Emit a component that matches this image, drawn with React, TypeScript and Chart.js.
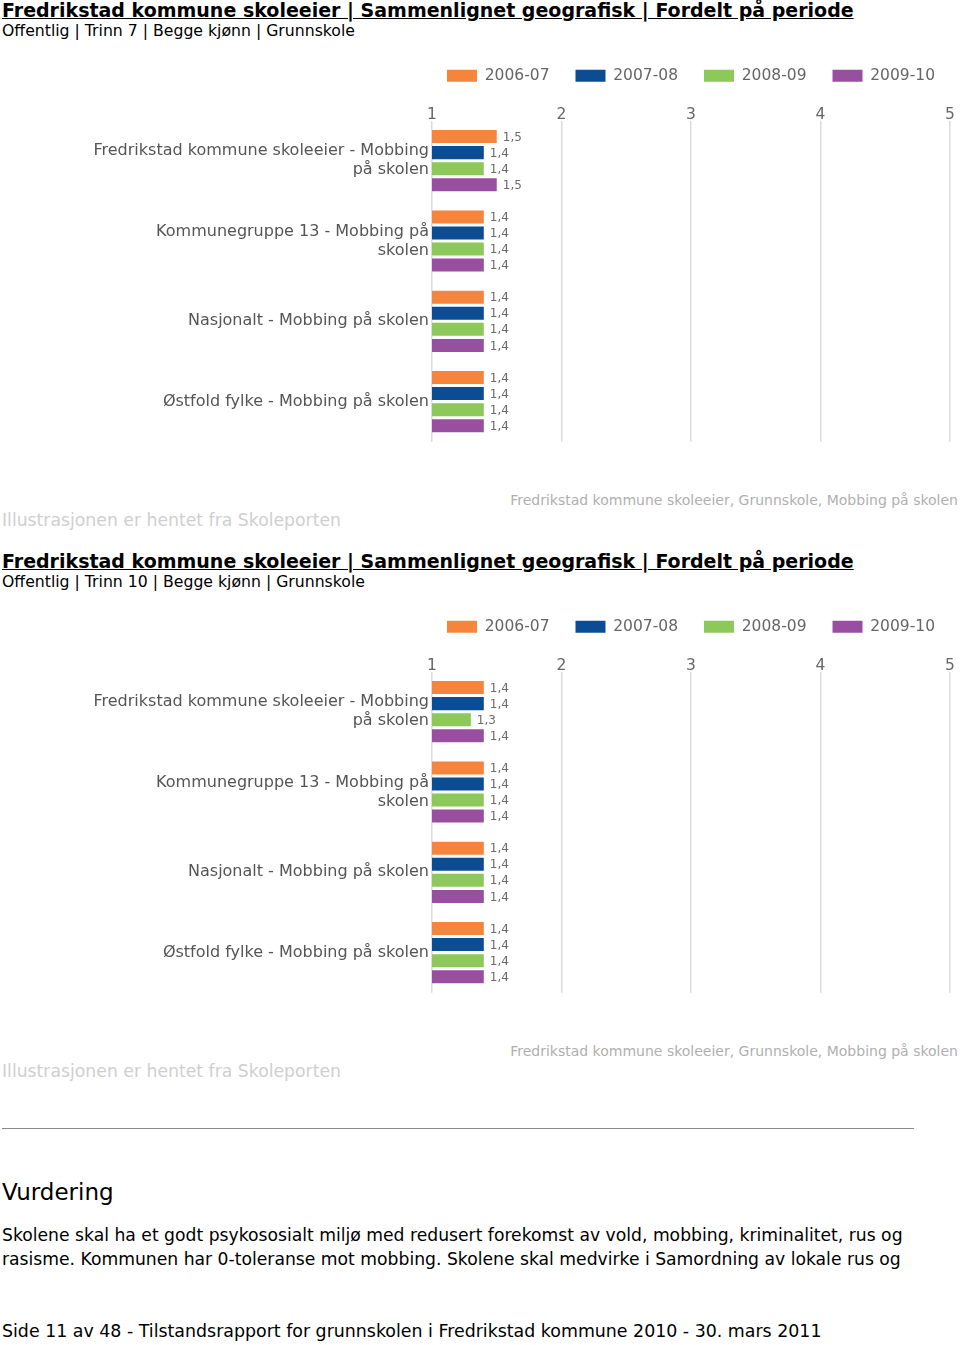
import React, { useEffect, useRef } from "react";
import { Chart, registerables } from "chart.js";

Chart.register(...registerables);

// ---- data ----
const categories: (string | string[])[] = [
  ["Fredrikstad kommune skoleeier - Mobbing", "på skolen"],
  ["Kommunegruppe 13 - Mobbing på", "skolen"],
  "Nasjonalt - Mobbing på skolen",
  "Østfold fylke - Mobbing på skolen",
];
const periods = ["2006-07", "2007-08", "2008-09", "2009-10"];
const periodColors = ["#F5843C", "#0B4C93", "#8DC85B", "#994F9F"];
const xMin = 1;
const xMax = 5;

// Trinn 7
const trinn7_2006_07 = [1.5, 1.4, 1.4, 1.4];
const trinn7_2007_08 = [1.4, 1.4, 1.4, 1.4];
const trinn7_2008_09 = [1.4, 1.4, 1.4, 1.4];
const trinn7_2009_10 = [1.5, 1.4, 1.4, 1.4];

// Trinn 10
const trinn10_2006_07 = [1.4, 1.4, 1.4, 1.4];
const trinn10_2007_08 = [1.4, 1.4, 1.4, 1.4];
const trinn10_2008_09 = [1.3, 1.4, 1.4, 1.4];
const trinn10_2009_10 = [1.4, 1.4, 1.4, 1.4];

const FONT = "'DejaVu Sans', Verdana, sans-serif";

const valueLabels = {
  id: "valueLabels",
  afterDatasetsDraw(chart: any) {
    const { ctx } = chart;
    ctx.save();
    ctx.font = "12px " + FONT;
    ctx.fillStyle = "#6a6a6a";
    ctx.textBaseline = "middle";
    ctx.textAlign = "left";
    chart.data.datasets.forEach((ds: any, i: number) => {
      const meta = chart.getDatasetMeta(i);
      meta.data.forEach((bar: any, j: number) => {
        const v = ds.data[j] as number;
        ctx.fillText(v.toFixed(1).replace(".", ","), bar.x + 6, bar.y + 1);
      });
    });
    ctx.restore();
  },
};

// centre the legend row over the plot area instead of the whole canvas
const legendOverPlot = {
  id: "legendOverPlot",
  afterLayout(chart: any) {
    const lg = chart.legend;
    if (!lg) return;
    lg.left = chart.chartArea.left - 80;
    lg.right = chart.chartArea.right + 80;
    lg.width = lg.right - lg.left;
  },
};

function makeConfig(series: number[][]): any {
  return {
    type: "bar",
    data: {
      labels: categories,
      datasets: periods.map((p, i) => ({
        label: p,
        data: series[i],
        backgroundColor: periodColors[i],
        borderWidth: 0,
        categoryPercentage: 0.8,
        barPercentage: 0.81,
      })),
    },
    options: {
      indexAxis: "y",
      responsive: false,
      animation: false,
      layout: { autoPadding: false, padding: { left: 0, right: 10, top: 0, bottom: 7 } },
      plugins: {
        legend: {
          display: true,
          position: "top",
          align: "center",
          labels: {
            boxWidth: 30,
            boxHeight: 12,
            padding: 26,
            color: "#666",
            font: { family: FONT, size: 15.5 },
          },
        },
        tooltip: { enabled: false },
      },
      scales: {
        x: {
          position: "top",
          min: xMin,
          max: xMax,
          ticks: { stepSize: 1, color: "#666", font: { family: FONT, size: 15.5 }, padding: -4 },
          grid: { color: "#dcdcdc", drawTicks: false, lineWidth: 1.5 },
          border: { display: false },
          afterFit: (s: any) => {
            s.height = 27;
          },
        },
        y: {
          grid: { display: false, drawTicks: false },
          border: { display: false },
          ticks: { color: "#555", font: { family: FONT, size: 16 }, padding: 3 },
          afterFit: (s: any) => {
            s.width = 432;
          },
        },
      },
    },
    plugins: [valueLabels, legendOverPlot],
  };
}

const CANVAS_H = 422;

function BarChart({ series, top }: { series: number[][]; top: number }) {
  const ref = useRef<HTMLCanvasElement>(null);
  useEffect(() => {
    if (!ref.current) return;
    const c = new Chart(ref.current, makeConfig(series));
    return () => c.destroy();
  }, [series]);
  return (
    <canvas
      ref={ref}
      width={960}
      height={CANVAS_H}
      style={{ position: "absolute", left: 0, top, width: 960, height: CANVAS_H, display: "block" }}
    />
  );
}

const abs = (top: number, extra: React.CSSProperties = {}): React.CSSProperties => ({
  position: "absolute",
  left: 2,
  top,
  whiteSpace: "nowrap",
  fontFamily: FONT,
  ...extra,
});

function Section({ offset, trinn, series }: { offset: number; trinn: string; series: number[][] }) {
  return (
    <>
      <div style={abs(offset + 0, { fontSize: 19, fontWeight: "bold", lineHeight: "21px", textDecoration: "underline", color: "#000" })}>
        Fredrikstad kommune skoleeier | Sammenlignet geografisk | Fordelt på periode
      </div>
      <div style={abs(offset + 22, { fontSize: 15.7, lineHeight: "18px", color: "#000" })}>
        Offentlig | Trinn {trinn} | Begge kjønn | Grunnskole
      </div>
      <BarChart series={series} top={offset + 42} />
      <div style={abs(offset + 491, { left: undefined, right: 2, fontSize: 14, lineHeight: "18px", color: "#b0b0b0" } as any)}>
        Fredrikstad kommune skoleeier, Grunnskole, Mobbing på skolen
      </div>
      <div style={abs(offset + 510, { fontSize: 17.25, lineHeight: "20px", color: "#cfcfcf" })}>
        Illustrasjonen er hentet fra Skoleporten
      </div>
    </>
  );
}

export default function App() {
  const s7 = [trinn7_2006_07, trinn7_2007_08, trinn7_2008_09, trinn7_2009_10];
  const s10 = [trinn10_2006_07, trinn10_2007_08, trinn10_2008_09, trinn10_2009_10];
  return (
    <div style={{ position: "absolute", left: 0, top: 0, width: 960, height: 1345, background: "#fff", overflow: "hidden" }}>
      <Section offset={0} trinn="7" series={s7} />
      <Section offset={551} trinn="10" series={s10} />
      <div style={{ position: "absolute", left: 2, top: 1128, width: 912, height: 0, borderTop: "1.5px solid #8a8a8a" }} />
      <div style={abs(1179, { fontSize: 23, lineHeight: "26px", color: "#000" })}>Vurdering</div>
      <div style={abs(1223, { fontSize: 17.2, lineHeight: "24px", color: "#000" })}>
        Skolene skal ha et godt psykososialt miljø med redusert forekomst av vold, mobbing, kriminalitet, rus og
        <br />
        rasisme. Kommunen har 0-toleranse mot mobbing. Skolene skal medvirke i Samordning av lokale rus og
      </div>
      <div style={abs(1320, { fontSize: 17.4, lineHeight: "22px", color: "#000" })}>
        Side 11 av 48 - Tilstandsrapport for grunnskolen i Fredrikstad kommune 2010 - 30. mars 2011
      </div>
    </div>
  );
}
